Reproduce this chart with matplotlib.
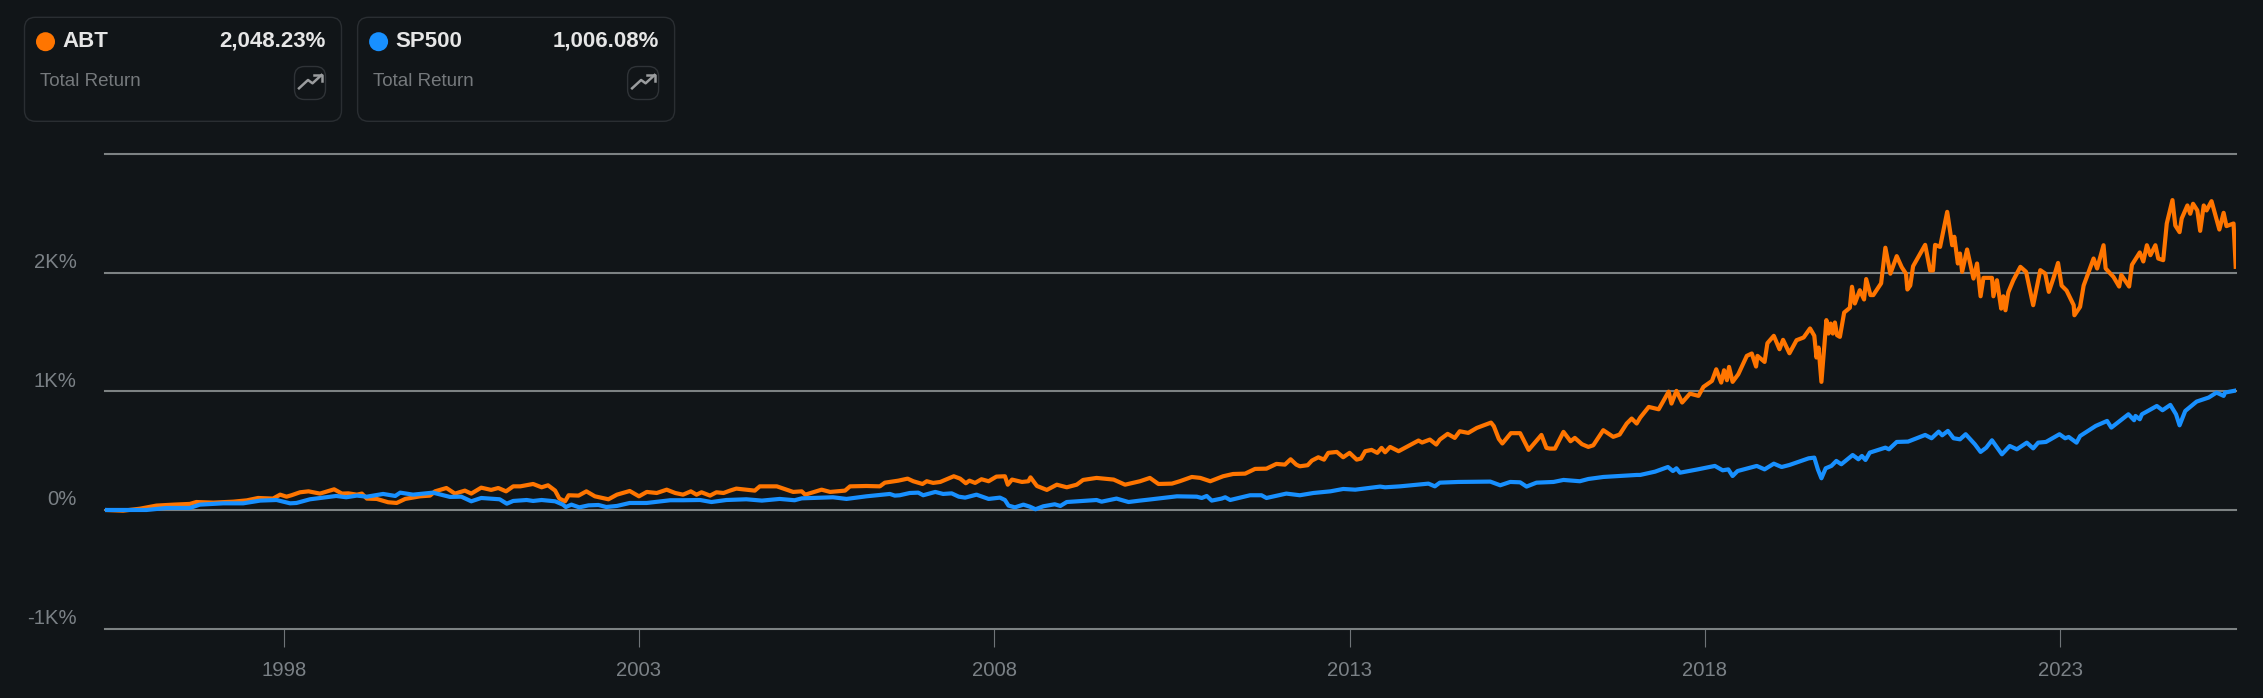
import matplotlib
matplotlib.use("Agg")
import matplotlib.pyplot as plt
from matplotlib.patches import Circle, FancyBboxPatch

plt.rcParams['font.family'] = ['Liberation Sans', 'DejaVu Sans']

# values (year, total return %)
abt_years = [
    1995.48, 1995.74, 1995.98, 1996.21, 1996.45, 1996.68, 1996.77, 1997.01, 1997.29, 1997.48, 1997.64, 1997.85,
    1997.95, 1998.04, 1998.11, 1998.23, 1998.35, 1998.51, 1998.63, 1998.71, 1998.82, 1998.91, 1999.03, 1999.10,
    1999.17, 1999.31, 1999.47, 1999.59, 1999.71, 1999.92, 2000.06, 2000.13, 2000.29, 2000.41, 2000.55, 2000.64,
    2000.78, 2000.92, 2001.02, 2001.13, 2001.23, 2001.33, 2001.51, 2001.63, 2001.72, 2001.82, 2001.88, 2001.96,
    2002.01, 2002.15, 2002.26, 2002.38, 2002.57, 2002.69, 2002.87, 2003.00, 2003.11, 2003.25, 2003.39, 2003.51,
    2003.62, 2003.73, 2003.81, 2003.88, 2004.00, 2004.09, 2004.19, 2004.28, 2004.37, 2004.63, 2004.70, 2004.94,
    2005.17, 2005.29, 2005.34, 2005.57, 2005.69, 2005.90, 2005.97, 2006.20, 2006.39, 2006.46, 2006.65, 2006.78,
    2006.86, 2006.99, 2007.05, 2007.14, 2007.24, 2007.35, 2007.43, 2007.52, 2007.60, 2007.65, 2007.73, 2007.82,
    2007.92, 2008.03, 2008.15, 2008.19, 2008.25, 2008.39, 2008.48, 2008.51, 2008.60, 2008.74, 2008.88, 2009.02,
    2009.16, 2009.25, 2009.44, 2009.68, 2009.84, 2010.05, 2010.19, 2010.31, 2010.50, 2010.61, 2010.78, 2010.90,
    2011.04, 2011.22, 2011.36, 2011.53, 2011.67, 2011.83, 2011.97, 2012.09, 2012.17, 2012.25, 2012.30, 2012.41,
    2012.47, 2012.56, 2012.64, 2012.70, 2012.82, 2012.91, 2013.00, 2013.10, 2013.16, 2013.22, 2013.31, 2013.39,
    2013.45, 2013.50, 2013.57, 2013.69, 2013.97, 2014.02, 2014.13, 2014.22, 2014.27, 2014.38, 2014.48, 2014.55,
    2014.67, 2014.79, 2014.99, 2015.03, 2015.10, 2015.15, 2015.27, 2015.40, 2015.52, 2015.70, 2015.77, 2015.82,
    2015.89, 2016.01, 2016.11, 2016.17, 2016.27, 2016.36, 2016.43, 2016.57, 2016.71, 2016.80, 2016.90, 2016.97,
    2017.04, 2017.09, 2017.21, 2017.35, 2017.49, 2017.53, 2017.60, 2017.68, 2017.79, 2017.91, 2017.98, 2018.10,
    2018.16, 2018.23, 2018.27, 2018.31, 2018.34, 2018.39, 2018.47, 2018.59, 2018.66, 2018.72, 2018.74, 2018.84,
    2018.88, 2018.97, 2019.05, 2019.10, 2019.19, 2019.29, 2019.39, 2019.48, 2019.54, 2019.57, 2019.60, 2019.64,
    2019.71, 2019.74, 2019.77, 2019.80, 2019.83, 2019.86, 2019.90, 2019.96, 2020.04, 2020.07, 2020.11, 2020.18,
    2020.24, 2020.27, 2020.33, 2020.37, 2020.48, 2020.54, 2020.61, 2020.70, 2020.77, 2020.83, 2020.85, 2020.89,
    2020.93, 2021.10, 2021.17, 2021.21, 2021.24, 2021.31, 2021.41, 2021.48, 2021.51, 2021.56, 2021.59, 2021.62,
    2021.69, 2021.78, 2021.83, 2021.88, 2021.92, 2022.04, 2022.06, 2022.11, 2022.17, 2022.20, 2022.23, 2022.27,
    2022.34, 2022.44, 2022.52, 2022.62, 2022.72, 2022.79, 2022.84, 2022.91, 2022.97, 2023.02, 2023.09, 2023.19,
    2023.20, 2023.28, 2023.33, 2023.47, 2023.52, 2023.61, 2023.64, 2023.75, 2023.83, 2023.86, 2023.97, 2024.01,
    2024.12, 2024.17, 2024.22, 2024.27, 2024.34, 2024.38, 2024.45, 2024.50, 2024.58, 2024.62, 2024.68, 2024.71,
    2024.79, 2024.83, 2024.87, 2024.93, 2024.97, 2025.02, 2025.06, 2025.13, 2025.24, 2025.30, 2025.34, 2025.44,
    2025.47,
]
abt_values = [
    0, -6, 11, 37, 45, 51, 67, 62, 70, 81, 101, 96,
    129, 112, 124, 149, 157, 138, 160, 174, 138, 140, 129, 138,
    96, 93, 65, 59, 93, 115, 121, 157, 185, 138, 163, 138,
    188, 169, 185, 157, 199, 199, 219, 191, 208, 163, 96, 73,
    124, 121, 157, 115, 90, 129, 160, 115, 152, 143, 171, 143,
    129, 157, 129, 149, 121, 149, 143, 163, 180, 163, 199, 199,
    152, 157, 129, 171, 152, 163, 199, 202, 199, 230, 247, 264,
    242, 219, 242, 228, 236, 264, 284, 264, 225, 247, 228, 259,
    242, 281, 284, 213, 256, 236, 242, 275, 202, 169, 213, 191,
    213, 253, 270, 256, 213, 242, 270, 219, 222, 242, 278, 270,
    242, 284, 303, 306, 346, 348, 388, 382, 427, 382, 368, 377,
    416, 444, 424, 481, 489, 444, 481, 424, 433, 495, 506, 481,
    523, 486, 531, 495, 585, 568, 593, 551, 593, 641, 607, 663,
    649, 691, 736, 706, 599, 560, 647, 647, 506, 632, 523, 517,
    517, 658, 579, 607, 554, 531, 545, 672, 616, 635, 728, 770,
    728, 778, 868, 848, 997, 896, 1003, 905, 980, 961, 1037, 1087,
    1185, 1073, 1177, 1093, 1205, 1079, 1143, 1298, 1318, 1208, 1298, 1247,
    1405, 1467, 1354, 1433, 1320, 1430, 1453, 1529, 1467, 1284, 1368, 1079,
    1599, 1486, 1570, 1486, 1579, 1472, 1458, 1663, 1703, 1880, 1739, 1851,
    1773, 1945, 1810, 1810, 1909, 2209, 1990, 2138, 2045, 1990, 1857, 1890,
    2053, 2233, 2017, 2017, 2233, 2216, 2511, 2230, 2301, 2076, 2160, 2006,
    2194, 1949, 2076, 1800, 1955, 1955, 1800, 1935, 1696, 1800, 1682, 1834,
    1935, 2048, 2006, 1725, 2020, 1991, 1837, 1961, 2081, 1890, 1848, 1725,
    1640, 1711, 1890, 2118, 2034, 2230, 2034, 1963, 1882, 1980, 1882, 2065,
    2169, 2093, 2230, 2146, 2230, 2118, 2104, 2413, 2610, 2396, 2340, 2455,
    2565, 2495, 2579, 2523, 2351, 2565, 2523, 2601, 2362, 2503, 2391, 2413,
    2048,
]
sp_years = [
    1995.48, 1995.79, 1996.07, 1996.35, 1996.68, 1996.82, 1997.15, 1997.43, 1997.67, 1997.90, 1998.09, 1998.18,
    1998.37, 1998.60, 1998.74, 1998.88, 1999.03, 1999.17, 1999.40, 1999.57, 1999.64, 1999.82, 2000.10, 2000.34,
    2000.50, 2000.64, 2000.78, 2001.04, 2001.14, 2001.23, 2001.42, 2001.51, 2001.63, 2001.82, 2001.93, 2001.97,
    2002.05, 2002.16, 2002.29, 2002.43, 2002.54, 2002.69, 2002.87, 2003.11, 2003.44, 2003.62, 2003.86, 2004.02,
    2004.23, 2004.51, 2004.73, 2004.98, 2005.19, 2005.29, 2005.73, 2005.92, 2006.20, 2006.53, 2006.60, 2006.67,
    2006.81, 2006.93, 2007.00, 2007.17, 2007.28, 2007.40, 2007.50, 2007.59, 2007.75, 2007.92, 2008.08, 2008.15,
    2008.20, 2008.29, 2008.41, 2008.50, 2008.58, 2008.69, 2008.85, 2008.93, 2009.02, 2009.44, 2009.51, 2009.72,
    2009.89, 2010.05, 2010.17, 2010.57, 2010.85, 2010.92, 2010.99, 2011.06, 2011.20, 2011.25, 2011.32, 2011.60,
    2011.76, 2011.83, 2012.11, 2012.30, 2012.49, 2012.73, 2012.91, 2013.08, 2013.43, 2013.50, 2013.71, 2013.95,
    2014.11, 2014.20, 2014.27, 2014.53, 2014.98, 2015.12, 2015.26, 2015.40, 2015.49, 2015.63, 2015.87, 2016.01,
    2016.24, 2016.36, 2016.57, 2017.04, 2017.09, 2017.30, 2017.48, 2017.55, 2017.60, 2017.65, 2017.90, 2018.14,
    2018.25, 2018.33, 2018.39, 2018.46, 2018.73, 2018.84, 2018.97, 2019.08, 2019.19, 2019.46, 2019.54, 2019.59,
    2019.64, 2019.70, 2019.78, 2019.85, 2019.92, 2020.08, 2020.16, 2020.21, 2020.26, 2020.32, 2020.54, 2020.59,
    2020.70, 2020.86, 2021.10, 2021.19, 2021.29, 2021.34, 2021.42, 2021.50, 2021.59, 2021.67, 2021.80, 2021.88,
    2021.96, 2022.04, 2022.18, 2022.29, 2022.39, 2022.53, 2022.62, 2022.69, 2022.80, 2022.99, 2023.07, 2023.12,
    2023.23, 2023.28, 2023.50, 2023.66, 2023.72, 2023.96, 2024.04, 2024.06, 2024.12, 2024.15, 2024.36, 2024.44,
    2024.55, 2024.63, 2024.68, 2024.76, 2024.92, 2025.09, 2025.20, 2025.30, 2025.32, 2025.47,
]
sp_values = [
    0, 0, 0, 17, 17, 45, 56, 56, 79, 84, 56, 59,
    90, 107, 118, 107, 121, 112, 135, 118, 146, 129, 146, 110,
    112, 73, 101, 90, 53, 76, 84, 76, 84, 73, 45, 25,
    45, 22, 39, 42, 25, 34, 59, 59, 82, 82, 84, 67,
    84, 90, 79, 93, 82, 98, 107, 93, 115, 135, 121, 124,
    143, 146, 124, 152, 135, 140, 112, 104, 129, 93, 104, 84,
    37, 22, 45, 28, 6, 31, 48, 34, 67, 84, 70, 96,
    67, 79, 87, 115, 112, 101, 118, 79, 96, 107, 84, 124,
    124, 101, 138, 124, 143, 157, 177, 171, 197, 191, 199, 213,
    222, 199, 230, 236, 239, 208, 236, 233, 197, 230, 236, 253,
    242, 261, 278, 295, 295, 323, 362, 328, 351, 314, 342, 371,
    334, 342, 286, 328, 371, 342, 390, 362, 379, 435, 441, 342,
    267, 351, 371, 413, 385, 463, 427, 455, 421, 483, 525, 511,
    573, 576, 632, 604, 660, 629, 666, 604, 595, 638, 553, 489,
    525, 587, 469, 539, 511, 567, 519, 567, 573, 638, 604, 615,
    567, 623, 708, 750, 694, 806, 756, 792, 764, 806, 876, 840,
    885, 806, 713, 834, 913, 947, 989, 961, 989, 1006,
]
year_ticks = [1998, 2003, 2008, 2013, 2018, 2023]
grid_values = [-1000, 0, 1000, 2000, 3000]
y_labels = {-1000: "-1K%", 0: "0%", 1000: "1K%", 2000: "2K%"}
cards = [
    ("ABT", "2,048.23%", "#ff7500"),
    ("SP500", "1,006.08%", "#1890ff"),
]

W, H = 2263, 698
BG = "#111518"

fig = plt.figure(figsize=(W / 100, H / 100), dpi=100, facecolor=BG)
ax = fig.add_axes([104.6 / W, 1 - 628.7 / H, (2235.7 - 104.6) / W, (628.7 - 153.8) / H], facecolor=BG)

ax.plot(abt_years, abt_values, color="#ff7500", lw=3.0, solid_joinstyle="round", zorder=3)
ax.plot(sp_years, sp_values, color="#1890ff", lw=3.0, solid_joinstyle="round", zorder=4)

ax.set_xlim(1995.48, 2025.47)
ax.set_ylim(-1000, 3000)
for spine in ax.spines.values():
    spine.set_visible(False)

ax.set_yticks(grid_values)
ax.set_yticklabels([])
ax.tick_params(axis="y", length=0)
for gl in ax.yaxis.get_gridlines():
    gl.set_clip_on(False)
ax.yaxis.grid(True, color="#7d8283", lw=1.5, zorder=1)
ax.set_axisbelow(True)

ax.set_xticks(year_ticks)
ax.set_xticklabels([str(y) for y in year_ticks], fontsize=14.6, color="#7b8186")
ax.tick_params(axis="x", length=13, width=0.8, color="#6f7478", pad=10)

for val, lab in y_labels.items():
    ax.annotate(lab, (0, val), xycoords=ax.get_yaxis_transform(), xytext=(-20.2, 7.2),
                textcoords="offset points", ha="right", va="center", fontsize=14.6, color="#7b8186")

# legend cards on top, laid out in pixels
ov = fig.add_axes([0, 0, 1, 1], facecolor="none")
ov.set_xlim(0, W)
ov.set_ylim(H, 0)
ov.axis("off")

for i, (name, total, col) in enumerate(cards):
    x0 = 24.5 + i * 333.1
    ov.add_patch(FancyBboxPatch((x0 + 11, 28.3), 295, 82, boxstyle="round,pad=11,rounding_size=11",
                                fc="none", ec="#2a2e32", lw=1))
    ov.add_patch(Circle((x0 + 21, 41.7), 9.5, fc=col, ec="none"))
    ov.text(x0 + 37.5, 41.5, name, fontsize=16, fontweight="bold", color="#e6e6e6", ha="left", va="center")
    ov.text(x0 + 301.5, 41.5, total, fontsize=16, fontweight="bold", color="#e6e6e6", ha="right", va="center")
    ov.text(x0 + 15.5, 81, "Total Return", fontsize=13.5, color="#75797c", ha="left", va="center")
    # small trend icon
    ov.add_patch(FancyBboxPatch((x0 + 279, 75.5), 13, 15, boxstyle="round,pad=9,rounding_size=10",
                                fc="none", ec="#2f3337", lw=1))
    ov.plot([x0 + 274.5, x0 + 283.5, x0 + 288, x0 + 297], [88.3, 80, 83.3, 75], color="#9a9c9e", lw=1.8)
    ov.plot([x0 + 289.5, x0 + 297, x0 + 297], [75, 75, 81], color="#9a9c9e", lw=1.8)

fig.savefig("out.png", dpi=100, facecolor=BG)
